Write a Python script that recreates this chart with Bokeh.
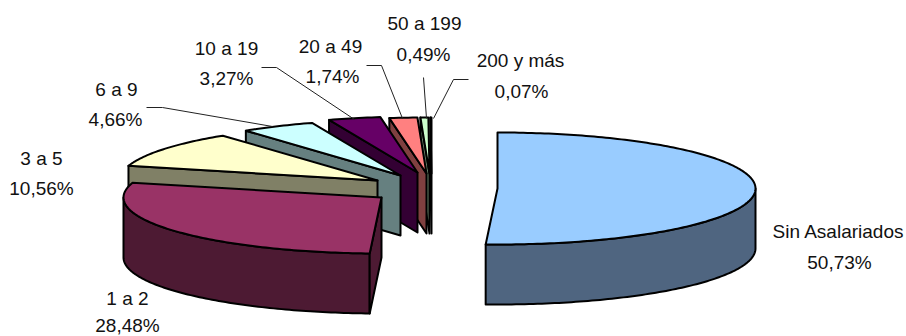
import math
from bokeh.core.properties import value
from bokeh.embed import file_html
from bokeh.models import Range1d
from bokeh.plotting import figure
from bokeh.resources import INLINE

# Firm size classes and their share of companies (%)
categories = ["Sin Asalariados", "1 a 2", "3 a 5", "6 a 9", "10 a 19", "20 a 49", "50 a 199", "200 y más"]
shares = [50.73, 28.48, 10.56, 4.66, 3.27, 1.74, 0.49, 0.07]
share_labels = ["50,73%", "28,48%", "10,56%", "4,66%", "3,27%", "1,74%", "0,49%", "0,07%"]

# Slice colours: lit top face, shaded wall
top_colors = ["#99CCFF", "#993366", "#FFFFCC", "#CCFFFF", "#660066", "#FF8080", "#CCFFCC", "#000000"]
wall_colors = ["#4F6580", "#4D1A33", "#808066", "#668080", "#330033", "#804040", "#668066", "#000000"]

# Exploded position of every slice apex in the drawing space
apex = [(497, 188), (381, 197), (377, 180), (400, 175), (417, 172), (426, 173), (429, 173), (431, 173)]
RX, RY, DEPTH = 258, 56, 60

# Label centres: (name x, name y, value x, value y)
label_pos = [
    (838, 231, 839, 262), (127, 298, 127, 325), (41, 158, 41, 188), (116, 89, 115, 119),
    (226, 48, 226, 78), (330, 46, 332, 76), (424, 23, 423, 54), (520, 60, 521, 91),
]
# Leader lines from labels to the small slices
leaders = [
    ([146, 162, 272], [107, 107, 126]),
    ([261, 276, 354], [67, 67, 119]),
    ([366, 381, 402], [65, 65, 118]),
    ([423, 426], [77, 118]),
    ([468, 453, 433], [79, 79, 118]),
]

p = figure(width=906, height=336, output_backend="svg", toolbar_location=None,
           x_range=Range1d(0, 906), y_range=Range1d(336, 0), min_border=0,
           outline_line_color=None, background_fill_color="white")
p.axis.visible = False
p.grid.visible = False


def rim(center, theta):
    return center[0] + RX * math.sin(theta), center[1] - RY * math.cos(theta)


def arc(center, a0, a1):
    n = max(2, int(abs(a1 - a0) * 60))
    return [rim(center, a0 + (a1 - a0) * i / n) for i in range(n + 1)]


def face(points, color):
    p.patch([q[0] for q in points], [q[1] for q in points], fill_color=color,
            line_color="black", line_width=2, line_join="round")


# Cumulative angles, clockwise from twelve o'clock
total = sum(shares)
edges = [0.0]
for s in shares:
    edges.append(edges[-1] + 2 * math.pi * s / total)

# Painted back to front, with the largest slice standing apart
for i in list(range(len(shares) - 1, 0, -1)) + [0]:
    c, a0, a1 = apex[i], edges[i], edges[i + 1]
    # Outer wall: only the near half of the rim can be seen
    lo, hi = max(a0, math.pi / 2), min(a1, 3 * math.pi / 2)
    if hi > lo:
        outer = arc(c, lo, hi)
        face(outer + [(x, y + DEPTH) for x, y in reversed(outer)], wall_colors[i])
    # Cut wall along the starting edge of the slice
    if i > 0:
        e = rim(c, a0)
        face([c, e, (e[0], e[1] + DEPTH), (c[0], c[1] + DEPTH)], wall_colors[i])
    face([c] + arc(c, a0, a1), top_colors[i])

for xs, ys in leaders:
    p.line(xs, ys, line_color="#222222", line_width=1)

font = value("Liberation Sans")
for name, val, (nx, ny, vx, vy) in zip(categories, share_labels, label_pos):
    p.text([nx], [ny], text=[name], text_font=font, text_font_size="19px",
           text_align="center", text_baseline="middle", text_color="#111111")
    p.text([vx], [vy], text=[val], text_font=font, text_font_size="19px",
           text_align="center", text_baseline="middle", text_color="#111111")

open("out.html", "w").write(file_html(p, INLINE))
